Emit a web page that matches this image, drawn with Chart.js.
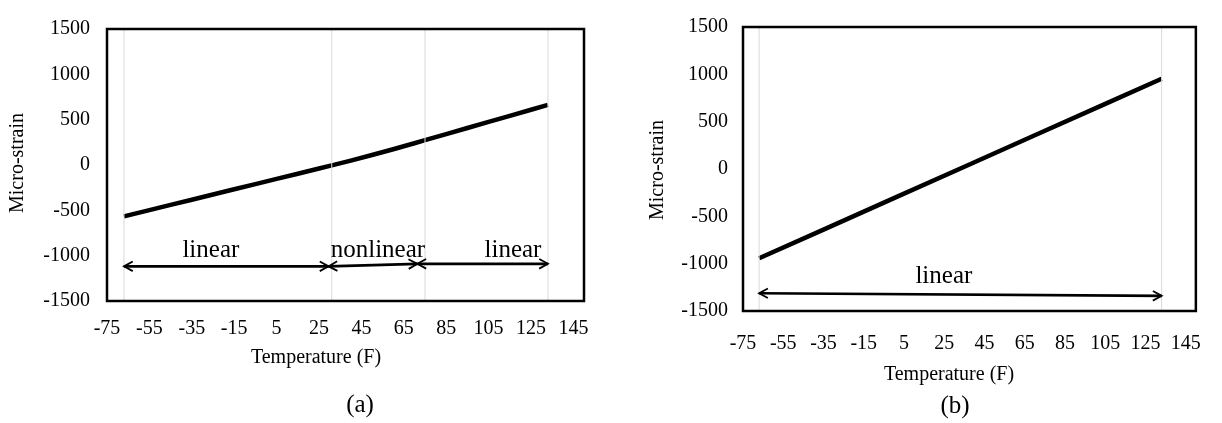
<!DOCTYPE html>
<html><head><meta charset="utf-8">
<script src="https://cdn.jsdelivr.net/npm/chart.js@4"></script>
<style>
html,body{margin:0;padding:0;background:#fff;}
#wrap{position:relative;width:1222px;height:423px;overflow:hidden;}
.c{position:absolute;top:0;width:611px;height:423px;}
</style></head><body>
<div id="wrap">
<div class="c" style="left:0"><canvas id="ca" width="611" height="423"></canvas></div>
<div class="c" style="left:611px"><canvas id="cb" width="611" height="423"></canvas></div>
</div>
<script>
// ---- data ----
const xTickValues = [-75,-55,-35,-15,5,25,45,65,85,105,125,145];
const yTickValues = [-1500,-1000,-500,0,500,1000,1500];
const xTitle = 'Temperature (F)';
const yTitle = 'Micro-strain';

// (a)
const tempA   = [-67,-55,-45,-35,-25,-15,-5,5,15,25,31,40,50,60,70,75,85,95,105,115,125,133];
const strainA = [-567,-498,-440,-383,-325,-268,-211,-153,-96,-38,-4,49,110,174,240,274,341,408,475,542,609,663];
const guideTempsA = [-67,31,75,133];
const arrowFromA = [[-67,-1118],[29.5,-1118],[71.4,-1090]];
const arrowToA   = [[29.5,-1118],[71.4,-1090],[133,-1090]];
const noteTextA  = ['linear','nonlinear','linear'];
const notePosA   = [[-26,-1012],[52.8,-1012],[116.5,-1012]];
const captionA = '(a)';

// (b)
const tempB   = [-67,-35,0,35,70,105,133];
const strainB = [-943,-640,-308,24,356,688,953];
const guideTempsB = [-67,133];
const arrowFromB = [[-67,-1312]];
const arrowToB   = [[133,-1340]];
const noteTextB  = ['linear'];
const notePosB   = [[24.8,-1201]];
const captionB = '(b)';

const FONT = '"Liberation Serif", "Times New Roman", serif';

const deco = {
  id: 'deco',
  afterDraw(chart, args, o) {
    const {ctx, chartArea: a, scales: {x, y}} = chart;
    ctx.save();
    // plot box
    ctx.strokeStyle = '#000';
    ctx.lineWidth = 2.5;
    ctx.strokeRect(a.left, a.top, a.right - a.left, a.bottom - a.top);
    // double-headed arrows
    ctx.lineCap = 'butt';
    const head = (tx, ty, ang) => {
      const L = 10, w = 0.5;
      ctx.beginPath();
      ctx.moveTo(tx + L * Math.cos(ang + w), ty + L * Math.sin(ang + w));
      ctx.lineTo(tx, ty);
      ctx.lineTo(tx + L * Math.cos(ang - w), ty + L * Math.sin(ang - w));
      ctx.lineWidth = 1.8;
      ctx.stroke();
    };
    o.from.forEach((f, i) => {
      const t = o.to[i];
      const x1 = x.getPixelForValue(f[0]), y1 = y.getPixelForValue(f[1]);
      const x2 = x.getPixelForValue(t[0]), y2 = y.getPixelForValue(t[1]);
      ctx.beginPath();
      ctx.moveTo(x1, y1); ctx.lineTo(x2, y2);
      ctx.lineWidth = 2.6;
      ctx.stroke();
      const ang = Math.atan2(y2 - y1, x2 - x1);
      head(x1, y1, ang);
      head(x2, y2, ang + Math.PI);
    });
    // annotation texts
    ctx.fillStyle = '#000';
    ctx.font = '25px ' + FONT;
    ctx.textAlign = 'center';
    ctx.textBaseline = 'alphabetic';
    o.notes.forEach((s, i) => {
      ctx.fillText(s, x.getPixelForValue(o.notePos[i][0]), y.getPixelForValue(o.notePos[i][1]));
    });
    // axis titles and caption
    ctx.font = '20px ' + FONT;
    ctx.textBaseline = 'middle';
    ctx.fillText(xTitle, o.xt[0], o.xt[1]);
    ctx.save();
    ctx.translate(o.yt[0], o.yt[1]);
    ctx.rotate(-Math.PI / 2);
    ctx.fillText(yTitle, 0, 0);
    ctx.restore();
    ctx.font = '25px ' + FONT;
    ctx.fillText(o.caption, o.cap[0], o.cap[1]);
    ctx.restore();
  }
};

function makeChart(id, temps, strains, guides, cfg) {
  const datasets = guides.map(g => ({
    data: [{x: g, y: -1500}, {x: g, y: 1500}],
    borderColor: '#d9d9d9', borderWidth: 1, pointRadius: 0, showLine: true
  }));
  datasets.push({
    data: temps.map((t, i) => ({x: t, y: strains[i]})),
    borderColor: '#000', borderWidth: 4.5, pointRadius: 0, showLine: true, tension: 0
  });
  const tickFont = {family: FONT, size: 20};
  const plain = v => String(v);
  return new Chart(document.getElementById(id), {
    type: 'scatter',
    data: {datasets},
    options: {
      responsive: false, animation: false, devicePixelRatio: 1,
      layout: {autoPadding: false, padding: cfg.padding},
      plugins: {legend: {display: false}, tooltip: {enabled: false}, deco: cfg.deco},
      scales: {
        x: {
          type: 'linear', min: -75, max: 150,
          afterBuildTicks: s => { s.ticks = xTickValues.map(v => ({value: v})); },
          afterFit: s => { s.height = cfg.xh; },
          grid: {display: false, drawTicks: false}, border: {display: false},
          ticks: {font: tickFont, color: '#000', padding: cfg.xpad, maxRotation: 0, autoSkip: false, callback: plain}
        },
        y: {
          type: 'linear', min: -1500, max: 1500,
          afterBuildTicks: s => { s.ticks = yTickValues.map(v => ({value: v})); },
          afterFit: s => { s.width = cfg.yw; },
          grid: {display: false, drawTicks: false}, border: {display: false},
          ticks: {font: tickFont, color: '#000', padding: cfg.ypad, callback: plain}
        }
      }
    },
    plugins: [deco]
  });
}

makeChart('ca', tempA, strainA, guideTempsA, {
  padding: {top: 18, right: 27, bottom: 0, left: 0},
  yw: 107, xh: 122, xpad: 16, ypad: 17,
  deco: {from: arrowFromA, to: arrowToA, notes: noteTextA, notePos: notePosA,
         xt: [316, 358], yt: [18, 163], cap: [360, 405], caption: captionA}
});
makeChart('cb', tempB, strainB, guideTempsB, {
  padding: {top: 20, right: 9, bottom: 0, left: 0},
  yw: 132, xh: 112, xpad: 21, ypad: 15,
  deco: {from: arrowFromB, to: arrowToB, notes: noteTextB, notePos: notePosB,
         xt: [338, 375], yt: [47, 170], cap: [344, 406], caption: captionB}
});
</script>
</body></html>
